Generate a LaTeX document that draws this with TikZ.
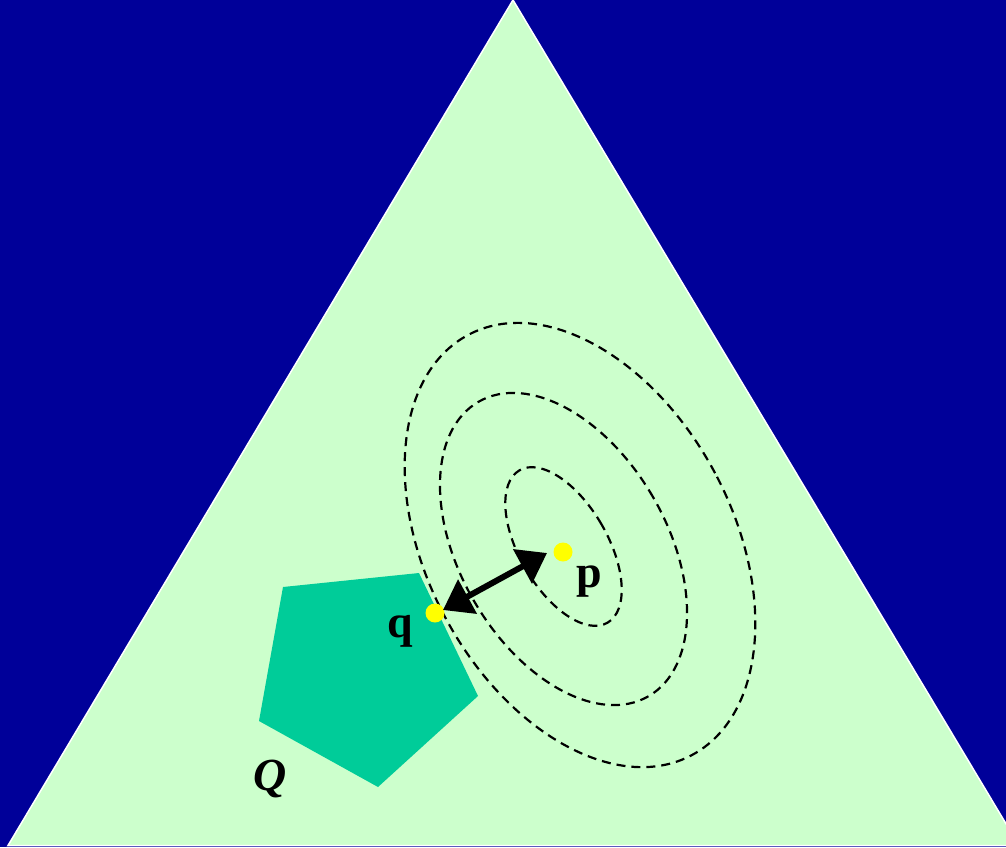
\documentclass[tikz,border=0pt]{standalone}
\usepackage{fontspec}
\setmainfont{Liberation Serif}
\usetikzlibrary{arrows.meta}
\definecolor{bg}{HTML}{000099}
\definecolor{tri}{HTML}{CCFFCC}
\definecolor{poly}{HTML}{00CC99}
\definecolor{dotc}{HTML}{FFFF00}
\begin{document}
\begin{tikzpicture}[x=1pt,y=-1pt,
  contour/.style={draw=black, dash pattern=on 9pt off 6pt, line width=2.2pt},
  dotst/.style={circle, fill=dotc, inner sep=0pt, minimum size=19pt},
  lbl/.style={inner sep=0pt, font=\fontsize{46}{50}\selectfont\bfseries},
  dblarrow/.style={line width=6pt, {Triangle[length=28pt 0,width=38pt 0]}-{Triangle[length=28pt 0,width=38pt 0]}}
]
\useasboundingbox (0,0) rectangle (1006,847);
\fill[bg] (0,0) rectangle (1006,847);
% triangle
\path[fill=tri, draw=white, line width=1.5pt] (513,0) -- (1019,845.5) -- (8,845.5) -- cycle;
% polygon Q
\fill[poly] (283,587) -- (419,573) -- (478,696) -- (378,787) -- (259,721) -- cycle;
% contours
\coordinate (c1) at (563.5,546.5);
\coordinate (c2) at (563.5,549);
\coordinate (c3) at (580,545);
\draw[contour, rotate around={30:(c1)}] (c1) ellipse [x radius=44pt, y radius=88pt];
\draw[contour, rotate around={30:(c2)}] (c2) ellipse [x radius=103.5pt, y radius=170pt];
\draw[contour, rotate around={28:(c3)}] (c3) ellipse [x radius=153pt, y radius=238pt];
% points
\node[dotst] (p) at (563,552) {};
\node[dotst] (q) at (435,613) {};
\coordinate (pa) at (547,553);
\coordinate (qa) at (443,610);
\draw[dblarrow] (qa) -- (pa);
% labels
\node[lbl] (plabel) at (589,582) {p};
\node[lbl] (qlabel) at (400,631) {q};
\node[lbl, font=\fontsize{46}{50}\selectfont\bfseries\itshape] (Qlabel) at (270,779) {Q};
\end{tikzpicture}
\end{document}
